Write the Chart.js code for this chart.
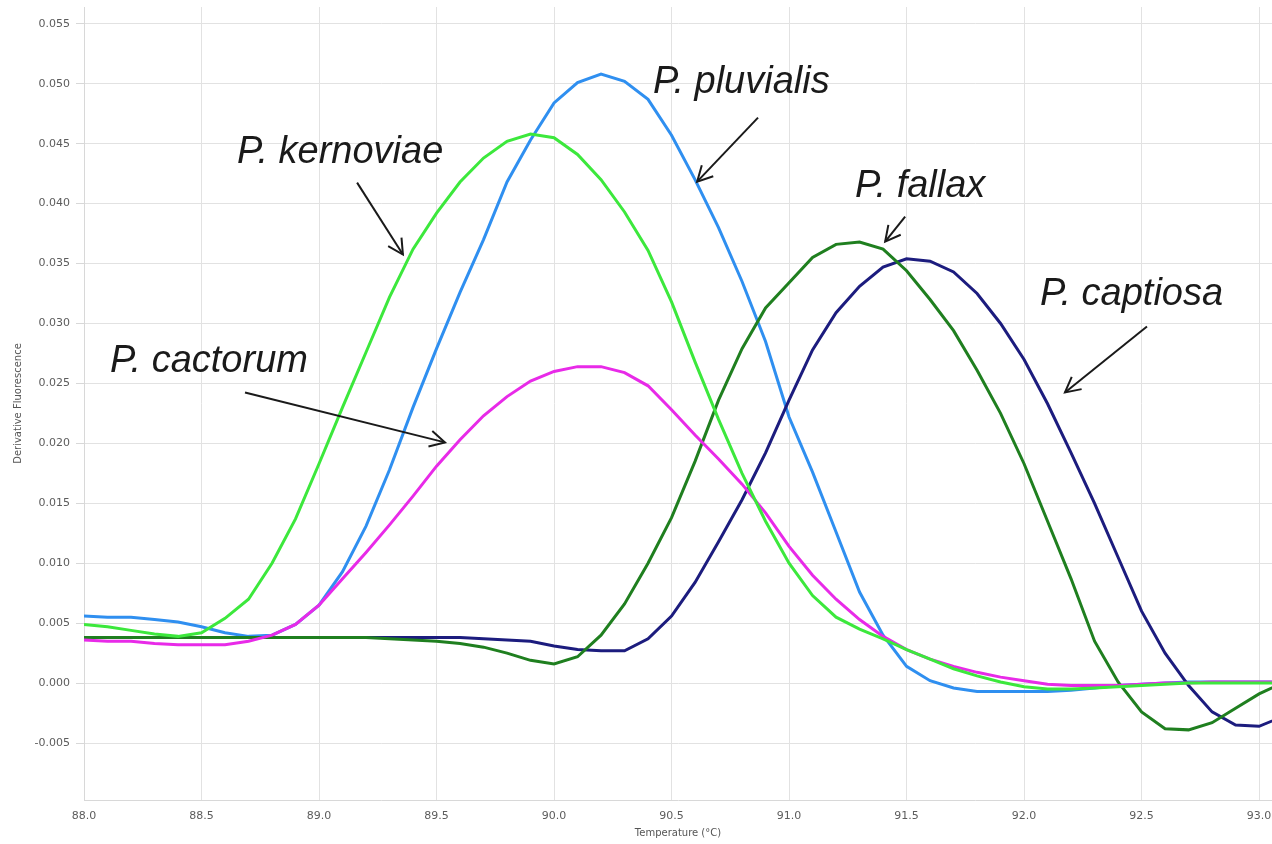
<!DOCTYPE html>
<html>
<head>
<meta charset="utf-8">
<script src="https://cdn.jsdelivr.net/npm/chart.js@4.4.1/dist/chart.umd.min.js"></script>
<style>
  html, body { margin: 0; padding: 0; overflow: hidden; background: #ffffff; }
  #wrap { width: 1300px; height: 844px; }
</style>
</head>
<body>
<div id="wrap"><canvas id="c" width="1300" height="844"></canvas></div>
<script>
// Temperature (°C) sample points
const temps = [88.0, 88.1, 88.2, 88.3, 88.4, 88.5, 88.6, 88.7, 88.8, 88.9,
               89.0, 89.1, 89.2, 89.3, 89.4, 89.5, 89.6, 89.7, 89.8, 89.9,
               90.0, 90.1, 90.2, 90.3, 90.4, 90.5, 90.6, 90.7, 90.8, 90.9,
               91.0, 91.1, 91.2, 91.3, 91.4, 91.5, 91.6, 91.7, 91.8, 91.9,
               92.0, 92.1, 92.2, 92.3, 92.4, 92.5, 92.6, 92.7, 92.8, 92.9,
               93.0, 93.1];

const kernoviae = [0.0049, 0.0047, 0.0044, 0.0041, 0.0039, 0.0042, 0.0054, 0.0070, 0.0100, 0.0137,
                   0.0183, 0.0230, 0.0276, 0.0322, 0.0362, 0.0392, 0.0418, 0.0438, 0.0452, 0.0458,
                   0.0455, 0.0441, 0.0420, 0.0393, 0.0361, 0.0318, 0.0268, 0.0220, 0.0175, 0.0135,
                   0.0100, 0.0073, 0.0055, 0.0045, 0.0037, 0.0028, 0.0020, 0.0012, 0.0006, 0.0001,
                   -0.0003, -0.0005, -0.0005, -0.0004, -0.0003, -0.0002, -0.0001, 0.0000, 0.0000, 0.0000,
                   0.0000, 0.0000];

const pluvialis = [0.0056, 0.0055, 0.0055, 0.0053, 0.0051, 0.0047, 0.0042, 0.0039, 0.0040, 0.0049,
                   0.0065, 0.0093, 0.0131, 0.0178, 0.0230, 0.0279, 0.0326, 0.0370, 0.0418, 0.0453,
                   0.0484, 0.0501, 0.0508, 0.0502, 0.0487, 0.0457, 0.0420, 0.0380, 0.0335, 0.0285,
                   0.0222, 0.0176, 0.0126, 0.0076, 0.0040, 0.0014, 0.0002, -0.0004, -0.0007, -0.0007,
                   -0.0007, -0.0007, -0.0006, -0.0004, -0.0002, -0.0001, 0.0000, 0.0001, 0.0001, 0.0001,
                   0.0001, 0.0001];

const cactorum = [0.0036, 0.0035, 0.0035, 0.0033, 0.0032, 0.0032, 0.0032, 0.0035, 0.0040, 0.0049,
                  0.0065, 0.0087, 0.0109, 0.0132, 0.0156, 0.0181, 0.0203, 0.0223, 0.0239, 0.0252,
                  0.0260, 0.0264, 0.0264, 0.0259, 0.0248, 0.0228, 0.0207, 0.0187, 0.0166, 0.0142,
                  0.0114, 0.0090, 0.0070, 0.0053, 0.0039, 0.0028, 0.0020, 0.0014, 0.0009, 0.0005,
                  0.0002, -0.0001, -0.0002, -0.0002, -0.0002, -0.0001, 0.0000, 0.0000, 0.0001, 0.0001,
                  0.0001, 0.0001];

const fallax = [0.0038, 0.0038, 0.0038, 0.0038, 0.0038, 0.0038, 0.0038, 0.0038, 0.0038, 0.0038,
                0.0038, 0.0038, 0.0038, 0.0037, 0.0036, 0.0035, 0.0033, 0.0030, 0.0025, 0.0019,
                0.0016, 0.0022, 0.0040, 0.0066, 0.0100, 0.0138, 0.0185, 0.0236, 0.0279, 0.0313,
                0.0334, 0.0355, 0.0366, 0.0368, 0.0362, 0.0344, 0.0320, 0.0294, 0.0261, 0.0225,
                0.0183, 0.0135, 0.0087, 0.0035, 0.0001, -0.0024, -0.0038, -0.0039, -0.0033, -0.0021,
                -0.0009, 0.0000];

const captiosa = [0.0038, 0.0038, 0.0038, 0.0038, 0.0038, 0.0038, 0.0038, 0.0038, 0.0038, 0.0038,
                  0.0038, 0.0038, 0.0038, 0.0038, 0.0038, 0.0038, 0.0038, 0.0037, 0.0036, 0.0035,
                  0.0031, 0.0028, 0.0027, 0.0027, 0.0037, 0.0056, 0.0084, 0.0118, 0.0153, 0.0192,
                  0.0236, 0.0278, 0.0309, 0.0331, 0.0347, 0.0354, 0.0352, 0.0343, 0.0325, 0.0300,
                  0.0270, 0.0233, 0.0192, 0.0150, 0.0105, 0.0060, 0.0025, -0.0002, -0.0024, -0.0035,
                  -0.0036, -0.0028];

const xTickValues = [88.0, 88.5, 89.0, 89.5, 90.0, 90.5, 91.0, 91.5, 92.0, 92.5, 93.0];
const yTickValues = [-0.005, 0.000, 0.005, 0.010, 0.015, 0.020, 0.025, 0.030, 0.035, 0.040, 0.045, 0.050, 0.055];

// Species labels with arrow (in data coordinates)
const labels = [
  { text: 'P. pluvialis',  tx: 90.421, ty: 0.04925, ax1: 90.868, ay1: 0.04717, ax2: 90.609, ay2: 0.04183 },
  { text: 'P. kernoviae',  tx: 88.651, ty: 0.04342, ax1: 89.162, ay1: 0.04175, ax2: 89.357, ay2: 0.03575 },
  { text: 'P. cactorum',   tx: 88.111, ty: 0.02592, ax1: 88.685, ay1: 0.02425, ax2: 89.536, ay2: 0.02008 },
  { text: 'P. fallax',     tx: 91.281, ty: 0.04058, ax1: 91.494, ay1: 0.03892, ax2: 91.409, ay2: 0.03683 },
  { text: 'P. captiosa',   tx: 92.068, ty: 0.03158, ax1: 92.523, ay1: 0.02975, ax2: 92.174, ay2: 0.02425 }
];

function pts(arr) { return temps.map((t, i) => ({ x: t, y: arr[i] })); }

const annotationPlugin = {
  id: 'speciesLabels',
  afterDatasetsDraw(chart) {
    const ctx = chart.ctx;
    const xs = chart.scales.x, ys = chart.scales.y;
    ctx.save();
    ctx.fillStyle = '#1a1a1a';
    ctx.strokeStyle = '#1a1a1a';
    ctx.lineWidth = 2;
    ctx.font = 'italic 38px "Liberation Sans", Arial, sans-serif';
    ctx.textAlign = 'left';
    ctx.textBaseline = 'alphabetic';
    labels.forEach(l => {
      ctx.fillText(l.text, xs.getPixelForValue(l.tx), ys.getPixelForValue(l.ty));
      const x1 = xs.getPixelForValue(l.ax1), y1 = ys.getPixelForValue(l.ay1);
      const x2 = xs.getPixelForValue(l.ax2), y2 = ys.getPixelForValue(l.ay2);
      ctx.beginPath();
      ctx.moveTo(x1, y1); ctx.lineTo(x2, y2);
      ctx.stroke();
      const ang = Math.atan2(y2 - y1, x2 - x1);
      const hl = 17, ha = Math.PI / 6.5;
      ctx.beginPath();
      ctx.moveTo(x2 - hl * Math.cos(ang - ha), y2 - hl * Math.sin(ang - ha));
      ctx.lineTo(x2, y2);
      ctx.lineTo(x2 - hl * Math.cos(ang + ha), y2 - hl * Math.sin(ang + ha));
      ctx.stroke();
    });
    ctx.restore();
  }
};

const series = [
  { label: 'P. kernoviae', data: kernoviae, color: '#3ce83c' },
  { label: 'P. cactorum',  data: cactorum,  color: '#e82ae8' },
  { label: 'P. fallax',    data: fallax,    color: '#1f7f1f' },
  { label: 'P. captiosa',  data: captiosa,  color: '#1c1c7e' },
  { label: 'P. pluvialis', data: pluvialis, color: '#2f8ff0' }
];

const tickFont = { family: '"DejaVu Sans", Verdana, sans-serif', size: 11 };

new Chart(document.getElementById('c'), {
  type: 'line',
  data: {
    datasets: series.map(s => ({
      label: s.label,
      data: pts(s.data),
      borderColor: s.color,
      backgroundColor: s.color,
      borderWidth: 3,
      pointRadius: 0,
      tension: 0,
      fill: false
    }))
  },
  options: {
    responsive: false,
    animation: false,
    layout: { padding: { left: 0, right: 28, top: 7, bottom: 0 } },
    plugins: { legend: { display: false }, tooltip: { enabled: false } },
    scales: {
      x: {
        type: 'linear',
        min: 88.0,
        max: 93.055,
        afterBuildTicks: (s) => { s.ticks = xTickValues.map(v => ({ value: v })); },
        afterFit: (s) => { s.height = 44; s.paddingLeft = 0; s.paddingRight = 0; },
        grid: { color: '#e2e2e2', lineWidth: 1, drawTicks: false },
        border: { color: '#d8d8d8' },
        ticks: {
          padding: 10,
          color: '#5c5c5c',
          font: tickFont,
          callback: (v) => Number(v).toFixed(1),
          maxRotation: 0,
          autoSkip: false
        },
        title: {
          display: true,
          text: 'Temperature (°C)',
          color: '#555555',
          font: { family: '"DejaVu Sans", Verdana, sans-serif', size: 10 },
          padding: { top: 0, bottom: 5 }
        }
      },
      y: {
        type: 'linear',
        min: -0.00975,
        max: 0.0564,
        afterBuildTicks: (s) => { s.ticks = yTickValues.map(v => ({ value: v })); },
        afterFit: (s) => { s.width = 84; s.paddingTop = 0; s.paddingBottom = 0; },
        grid: { color: '#e2e2e2', lineWidth: 1, tickLength: 8, tickColor: '#d8d8d8' },
        border: { color: '#d8d8d8' },
        ticks: {
          padding: 6,
          color: '#5c5c5c',
          font: tickFont,
          callback: (v) => Number(v).toFixed(3),
          autoSkip: false
        },
        title: {
          display: true,
          text: 'Derivative Fluorescence',
          color: '#555555',
          font: { family: '"DejaVu Sans", Verdana, sans-serif', size: 10 },
          padding: { top: 12, bottom: 0 }
        }
      }
    }
  },
  plugins: [annotationPlugin]
});
</script>
</body>
</html>
